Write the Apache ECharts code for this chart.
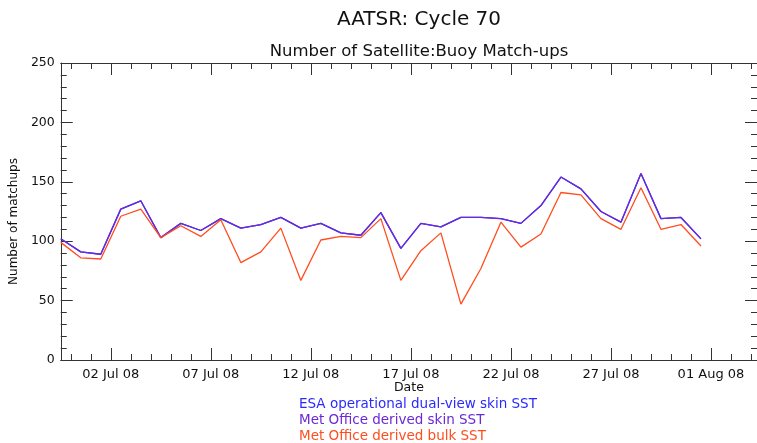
<!DOCTYPE html>
<html>
<head>
<meta charset="utf-8">
<script src="https://cdn.jsdelivr.net/npm/echarts@6/dist/echarts.min.js"></script>
<style>
  html, body { margin: 0; padding: 0; background: #fff; }
  #chart { width: 757px; height: 443px; }
</style>
</head>
<body>
<div id="chart"></div>
<script>
// day of July 2008 (0 = 30 Jun), one point per day at noon
const days = [-0.5, 0.5, 1.5, 2.5, 3.5, 4.5, 5.5, 6.5, 7.5, 8.5, 9.5, 10.5, 11.5, 12.5, 13.5, 14.5,
  15.5, 16.5, 17.5, 18.5, 19.5, 20.5, 21.5, 22.5, 23.5, 24.5, 25.5, 26.5, 27.5, 28.5, 29.5, 30.5, 31.5]

const metSkin = [102, 91, 89, 127, 134, 103, 115, 109, 119, 111, 114, 120, 111, 115, 107, 105,
  124, 94, 115, 112, 120, 120, 119, 115, 130, 154, 144, 125, 116, 157, 119, 120, 102]
const metBulk = [99, 86, 85, 121, 127, 103, 113, 104, 118, 82, 91, 111, 67, 101, 104, 103,
  119, 67, 92, 107, 47, 77, 116, 95, 106, 141, 139, 119, 110, 145, 110, 114, 96]
// ESA line is not visible: it sits under the Met Office skin line
const esaSkin = metSkin.slice()

const tickDays = [2, 7, 12, 17, 22, 27, 32]
const tickLabels = ['02 Jul 08', '07 Jul 08', '12 Jul 08', '17 Jul 08', '22 Jul 08', '27 Jul 08', '01 Aug 08']
const minorDays = [0, 1, 2, 3, 4, 5, 6, 7, 8, 9, 10, 11, 12, 13, 14, 15, 16, 17,
  18, 19, 20, 21, 22, 23, 24, 25, 26, 27, 28, 29, 30, 31, 32, 33, 34]

const seriesNames = ['ESA operational dual-view skin SST', 'Met Office derived skin SST', 'Met Office derived bulk SST']
const seriesColors = ['#2a2aff', '#6a2ad6', '#ff4d1f']

const font = 'DejaVu Sans, sans-serif'
const axisColor = '#333'
const X_MIN = -0.5, X_MAX = 34.3

const pairs = (ys) => days.map((d, i) => [d, ys[i]])

const xAxisBase = (pos, major) => ({
  type: 'value', position: pos, min: X_MIN, max: X_MAX,
  axisLine: { show: major, onZero: false, lineStyle: { color: axisColor, width: 1 } },
  axisTick: {
    show: true, inside: true, length: major ? 12 : 6,
    customValues: major ? tickDays : minorDays,
    lineStyle: { color: axisColor, width: 1 }
  },
  axisLabel: { show: false },
  splitLine: { show: false }
})

const bottomMajor = xAxisBase('bottom', true)
bottomMajor.axisLabel = {
  show: true, customValues: tickDays, margin: 8,
  fontFamily: font, fontSize: 13, color: '#111',
  formatter: (v) => tickLabels[tickDays.indexOf(v)] || ''
}
bottomMajor.name = 'Date'
bottomMajor.nameLocation = 'middle'
bottomMajor.nameGap = 21
bottomMajor.nameMoveOverlap = false
bottomMajor.nameTextStyle = { fontFamily: font, fontSize: 12.5, color: '#111' }

const yAxisBase = (pos, labels) => ({
  type: 'value', position: pos, min: 0, max: 250, interval: 50,
  axisLine: { show: true, onZero: false, lineStyle: { color: axisColor, width: 1 } },
  axisTick: { show: true, inside: true, length: 12, lineStyle: { color: axisColor, width: 1 } },
  minorTick: { show: true, splitNumber: 5, length: 6, lineStyle: { color: axisColor, width: 1 } },
  axisLabel: { show: labels, margin: 6, fontFamily: font, fontSize: 12.5, color: '#111' },
  splitLine: { show: false },
  minorSplitLine: { show: false }
})

const leftY = yAxisBase('left', true)
leftY.name = 'Number of matchups'
leftY.nameLocation = 'middle'
leftY.nameGap = 34
leftY.nameTextStyle = { fontFamily: font, fontSize: 12, color: '#111', padding: [0, 20, 0, 0] }

const chart = echarts.init(document.getElementById('chart'))
chart.setOption({
  animation: false,
  backgroundColor: '#fff',
  title: [
    { text: 'AATSR: Cycle 70', left: 414, top: 5, textAlign: 'center',
      textStyle: { fontFamily: font, fontSize: 20, fontWeight: 'normal', color: '#111' } },
    { text: 'Number of Satellite:Buoy Match-ups', left: 414, top: 38, textAlign: 'center',
      textStyle: { fontFamily: font, fontSize: 16.5, fontWeight: 'normal', color: '#111' } }
  ],
  legend: {
    orient: 'vertical', left: 294, top: 397, height: 60, padding: 0, itemGap: 2,
    itemWidth: 0, itemHeight: 0, icon: 'none',
    selectedMode: false,
    textStyle: { fontFamily: font, fontSize: 13.5, lineHeight: 14 },
    data: seriesNames.map((n, i) => ({ name: n, textStyle: { color: seriesColors[i] } }))
  },
  grid: { left: 60, right: -7, top: 63, bottom: 83, containLabel: false },
  xAxis: [bottomMajor, xAxisBase('bottom', false), xAxisBase('top', true), xAxisBase('top', false)],
  yAxis: [leftY, yAxisBase('right', false)],
  series: [
    { name: seriesNames[0], type: 'line', data: pairs(esaSkin), symbol: 'none',
      lineStyle: { color: seriesColors[0], width: 1.3 }, itemStyle: { color: seriesColors[0] } },
    { name: seriesNames[1], type: 'line', data: pairs(metSkin), symbol: 'none',
      lineStyle: { color: seriesColors[1], width: 1.3 }, itemStyle: { color: seriesColors[1] } },
    { name: seriesNames[2], type: 'line', data: pairs(metBulk), symbol: 'none',
      lineStyle: { color: seriesColors[2], width: 1.3 }, itemStyle: { color: seriesColors[2] } }
  ]
})
</script>
</body>
</html>
